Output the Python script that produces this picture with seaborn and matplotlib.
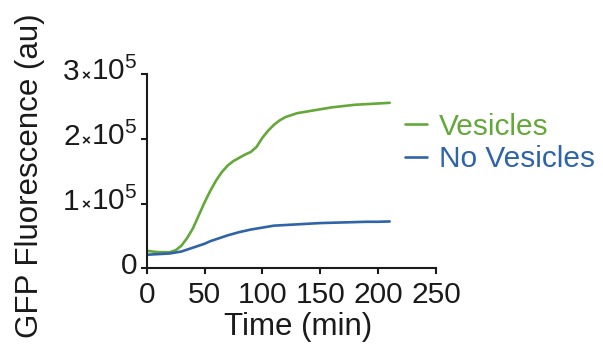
import matplotlib
matplotlib.use("Agg")
import matplotlib.pyplot as plt
import seaborn as sns
import pandas as pd
from matplotlib.ticker import FixedLocator, NullFormatter
from matplotlib.offsetbox import AnnotationBbox, HPacker, TextArea

# Time points (min)
time_min = [0, 10, 20, 25, 30, 35, 40, 45, 50, 55, 60, 65, 70, 75, 80, 85, 90, 95,
            100, 105, 110, 115, 120, 130, 140, 150, 160, 170, 180, 190, 200, 210]

# GFP fluorescence (au), in units of 1e5
vesicles = [0.27, 0.25, 0.25, 0.28, 0.35, 0.47, 0.62, 0.82, 1.02, 1.20, 1.36, 1.49,
            1.59, 1.66, 1.71, 1.76, 1.80, 1.88, 2.02, 2.13, 2.22, 2.29, 2.34, 2.40,
            2.43, 2.46, 2.49, 2.51, 2.53, 2.54, 2.55, 2.56]
no_vesicles = [0.21, 0.22, 0.23, 0.245, 0.26, 0.29, 0.32, 0.35, 0.38, 0.42, 0.45, 0.48,
               0.51, 0.535, 0.56, 0.58, 0.60, 0.615, 0.63, 0.645, 0.66, 0.665, 0.67,
               0.68, 0.69, 0.70, 0.705, 0.71, 0.715, 0.72, 0.72, 0.725]

series_names = ["Vesicles", "No Vesicles"]
series_colors = ["#64a83a", "#2f64a8"]

x_ticks = [0, 50, 100, 150, 200, 250]
y_ticks = [0, 1, 2, 3]          # multiples of 1e5
y_exponent = 5

INK = "#1a1a1a"
TICK_FS = 21.5
LABEL_FS = 22.5

sns.set_style("ticks")
plt.rcParams["font.family"] = ["Liberation Sans", "DejaVu Sans"]
plt.rcParams["mathtext.fontset"] = "custom"
plt.rcParams["mathtext.rm"] = "Liberation Sans"
plt.rcParams["mathtext.it"] = "Liberation Sans"
plt.rcParams["mathtext.default"] = "regular"

df = pd.DataFrame({
    "Time": time_min * 2,
    "GFP": [v * 10 ** y_exponent for v in vesicles] + [v * 10 ** y_exponent for v in no_vesicles],
    "Condition": [series_names[0]] * len(time_min) + [series_names[1]] * len(time_min),
})

fig = plt.figure(figsize=(6.03, 3.46), dpi=100)
ax = fig.add_axes([0.2433, 0.2245, 0.7230 - 0.2433, 0.785 - 0.2245])

sns.lineplot(data=df, x="Time", y="GFP", hue="Condition", hue_order=series_names,
             palette=series_colors, linewidth=1.9, ax=ax)

ax.set_xlim(0, 250)
ax.set_ylim(0, 3 * 10 ** y_exponent)
ax.xaxis.set_major_locator(FixedLocator(x_ticks))
ax.yaxis.set_major_locator(FixedLocator([v * 10 ** y_exponent for v in y_ticks]))
ax.yaxis.set_major_formatter(NullFormatter())

for side in ["top", "right"]:
    ax.spines[side].set_visible(False)
for side in ["left", "bottom"]:
    ax.spines[side].set_linewidth(1.5)
    ax.spines[side].set_color(INK)
ax.tick_params(axis="both", length=4, width=1.5, color=INK,
               labelsize=TICK_FS, labelcolor=INK)
ax.tick_params(axis="x", pad=5)

# y tick labels in "n x 10^5" form with a small multiplication sign
txt = dict(color=INK, fontsize=TICK_FS)
for v in y_ticks:
    if v == 0:
        parts = [TextArea("0", textprops=txt)]
    else:
        parts = [TextArea(str(v), textprops=txt),
                 TextArea("\u00d7", textprops=dict(color=INK, fontsize=11, fontweight="bold")),
                 TextArea(r"$10^{%d}$" % y_exponent, textprops=txt)]
    pack = HPacker(children=parts, align="baseline", pad=0, sep=1)
    ab = AnnotationBbox(pack, xy=(0, v * 10 ** y_exponent),
                        xycoords=("axes fraction", "data"),
                        xybox=(-6.5, 2), boxcoords="offset points",
                        box_alignment=(1, 0.5), frameon=False, pad=0,
                        annotation_clip=False)
    ax.add_artist(ab)

ax.set_xlabel("Time (min)", fontsize=LABEL_FS, color=INK)
ax.xaxis.set_label_coords(0.523, -0.225)
ax.set_ylabel("GFP Fluorescence (au)", fontsize=LABEL_FS, color=INK)
ax.yaxis.set_label_coords(-0.352, 0.476)

leg = ax.legend(loc="upper left", bbox_to_anchor=(0.672, 0.674),
                bbox_transform=fig.transFigure, frameon=False, fontsize=21.5,
                handlelength=0.74, handletextpad=0.4, labelspacing=0.14,
                labelcolor="linecolor", borderpad=0, borderaxespad=0)

fig.savefig("out.png", dpi=100)
